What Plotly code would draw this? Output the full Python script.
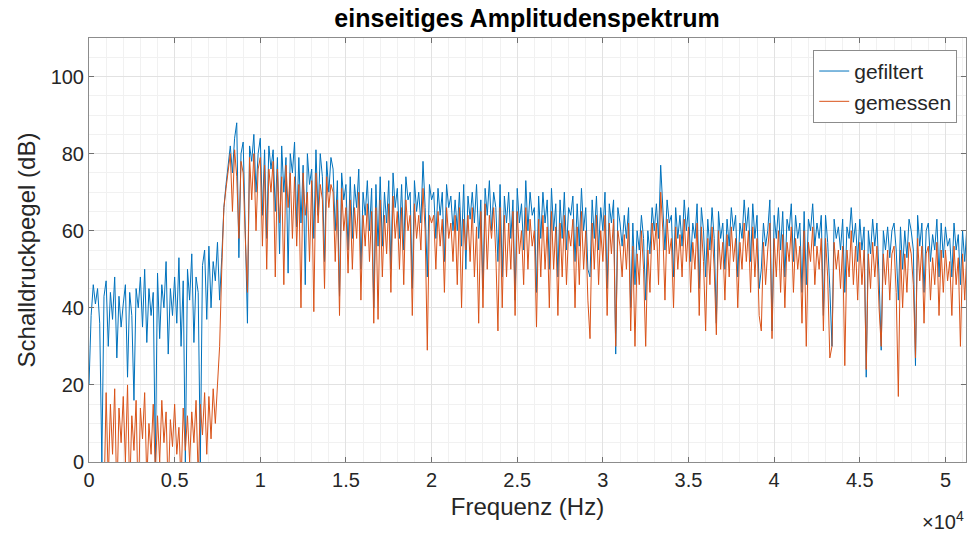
import plotly.graph_objects as go

# Frequency axis of the spectrum (Hz): first bin and bin spacing
FREQ_START_HZ = 0
FREQ_STEP_HZ = 125

# Sound pressure level, filtered signal (dB) - one row per 1000 Hz
gefiltert_db = [
    20, 38, 46, 41, 45, 36, 0, 43,
    47, 30, 44, 37, 48, 27, 43, 35,
    41, 46, 22, 44, 38, 16, 45, 40,
    48, 35, 50, 31, 45, 38, 44, 0,
    49, 32, 46, 40, 52, 28, 45, 38,
    48, 36, 53, 30, 47, 0, 50, 42,
    54, 31, 48, 44, 0, 51, 55, 37,
    56, 40, 52, 47, 57, 42, 53, 66,
    72, 78, 82, 75, 84, 88, 53, 80,
    83, 60, 36, 82, 78, 85, 70, 80,
    84, 64, 81, 58, 82, 76, 81, 65,
    79, 54, 82, 70, 79, 49, 80, 75,
    83, 61, 79, 62, 77, 46, 80, 72,
    76, 58, 81, 64, 80, 74, 52, 78,
    70, 79, 76, 60, 73, 43, 75, 68,
    72, 55, 74, 58, 72, 66, 76, 50,
    70, 64, 73, 60, 71, 40, 72, 56,
    74, 56, 70, 62, 73, 50, 75, 66,
    71, 58, 72, 55, 74, 68, 70, 45,
    73, 65, 70, 62, 78, 66, 48, 72,
    68, 70, 58, 71, 64, 70, 52, 72,
    66, 69, 60, 68, 60, 70, 56, 72,
    50, 69, 63, 70, 62, 72, 58, 68,
    45, 71, 64, 73, 60, 70, 66, 52,
    72, 48, 69, 62, 70, 58, 68, 42,
    71, 62, 67, 55, 73, 60, 70, 64,
    66, 44, 69, 58, 70, 62, 68, 50,
    71, 60, 67, 48, 68, 58, 70, 55,
    66, 64, 69, 52, 67, 56, 71, 60,
    66, 50, 48, 68, 58, 69, 55, 66,
    60, 70, 45, 67, 62, 68, 28, 66,
    62, 56, 64, 58, 66, 40, 62, 46,
    60, 55, 64, 58, 42, 60, 54, 66,
    60, 67, 58, 77, 65, 55, 68, 62,
    64, 48, 66, 58, 64, 56, 68, 60,
    66, 52, 62, 58, 67, 45, 66, 60,
    48, 63, 55, 66, 58, 36, 65, 58,
    62, 50, 63, 56, 66, 60, 64, 48,
    62, 58, 68, 60, 66, 52, 67, 58,
    64, 45, 50, 62, 56, 60, 68, 34,
    64, 58, 66, 55, 65, 48, 63, 60,
    67, 52, 64, 58, 62, 44, 65, 46,
    63, 60, 67, 56, 62, 58, 64, 38,
    64, 57, 45, 30, 63, 58, 61, 55,
    63, 44, 61, 58, 66, 57, 62, 52,
    63, 55, 61, 22, 60, 54, 63, 56,
    62, 48, 29, 60, 55, 61, 53, 60,
    62, 55, 42, 61, 50, 60, 53, 63,
    60, 55, 25, 64, 56, 62, 44, 60,
    62, 52, 59, 55, 63, 48, 62, 53,
    61, 56, 58, 48, 62, 55, 59, 46,
    60, 52, 61, 57, 59, 55, 62, 58,
]

# Sound pressure level, measured signal (dB) - one row per 1000 Hz
gemessen_db = [
    -25, -20, -30, -22, -18, -24, -15, -10,
    18, -5, 15, 2, 19, -10, 14, 5,
    17, 0, 20, -8, 12, 3, 16, -12,
    14, 6, 18, -5, 10, 2, 15, -3,
    12, 0, 16, 5, 13, -8, 11, 4,
    15, 2, 9, -6, 14, 3, 12, 0,
    13, 5, 16, -4, 15, 7, 18, 2,
    17, 6, 19, 10, 20, 30, 50, 66,
    71, 76, 80, 65, 81, 74, 58, 78,
    75, 58, 44, 79, 68, 80, 60, 76,
    79, 56, 77, 50, 76, 70, 78, 48,
    76, 62, 74, 46, 77, 66, 75, 58,
    74, 56, 72, 40, 75, 64, 70, 52,
    73, 39, 75, 62, 72, 68, 45, 74,
    66, 72, 70, 52, 68, 38, 71, 60,
    66, 49, 68, 50, 66, 58, 70, 42,
    64, 56, 67, 52, 65, 36, 66, 37,
    68, 48, 64, 54, 67, 44, 69, 58,
    65, 50, 66, 46, 68, 60, 64, 38,
    67, 58, 64, 55, 71, 60, 29, 64,
    62, 64, 50, 65, 56, 63, 44, 66,
    58, 62, 52, 64, 46, 66, 40, 63,
    55, 64, 52, 66, 48, 61, 36, 65,
    40, 67, 50, 64, 58, 66, 54, 34,
    66, 40, 64, 48, 62, 50, 65, 38,
    65, 54, 60, 46, 66, 50, 63, 56,
    60, 35, 63, 48, 64, 50, 61, 40,
    65, 50, 61, 38, 62, 48, 64, 46,
    60, 56, 63, 40, 61, 46, 65, 50,
    60, 42, 32, 62, 50, 64, 46, 60,
    52, 64, 38, 62, 54, 63, 30, 60,
    56, 48, 59, 50, 62, 34, 56, 30,
    54, 46, 60, 50, 30, 55, 44, 62,
    55, 62, 46, 70, 60, 42, 63, 54,
    58, 40, 61, 50, 59, 48, 63, 52,
    61, 44, 57, 50, 62, 38, 61, 52,
    34, 58, 46, 61, 50, 33, 60, 50,
    57, 42, 59, 48, 61, 52, 58, 40,
    57, 50, 62, 52, 60, 44, 61, 48,
    58, 38, 34, 57, 46, 55, 62, 32,
    58, 48, 60, 44, 59, 40, 57, 52,
    61, 44, 58, 50, 56, 36, 60, 30,
    57, 52, 61, 46, 56, 50, 58, 34,
    58, 48, 27, 30, 57, 50, 55, 45,
    56, 25, 55, 48, 60, 46, 56, 42,
    57, 46, 55, 24, 54, 45, 57, 48,
    56, 40, 30, 54, 46, 55, 42, 54,
    56, 44, 17, 55, 40, 54, 44, 57,
    54, 46, 27, 58, 47, 56, 36, 54,
    56, 42, 53, 46, 57, 38, 55, 44,
    55, 47, 52, 38, 56, 46, 53, 30,
    54, 42, 55, 48, 53, 46, 56, 50,
]

x_tick_vals = [0, 5000, 10000, 15000, 20000, 25000, 30000, 35000, 40000, 45000, 50000]
x_tick_text = ["0", "0.5", "1", "1.5", "2", "2.5", "3", "3.5", "4", "4.5", "5"]
y_tick_vals = [0, 20, 40, 60, 80, 100]

FONT = "Liberation Sans, Arial, Helvetica, sans-serif"
TXT = "#262626"

fig = go.Figure()
fig.add_trace(go.Scatter(
    x0=FREQ_START_HZ, dx=FREQ_STEP_HZ, y=gefiltert_db, mode="lines",
    name="gefiltert", line=dict(color="#0072BD", width=1.0)))
fig.add_trace(go.Scatter(
    x0=FREQ_START_HZ, dx=FREQ_STEP_HZ, y=gemessen_db, mode="lines",
    name="gemessen", line=dict(color="#D95319", width=1.0)))

axis_common = dict(
    showline=True, linecolor="#8c8c8c", linewidth=1, mirror="ticks",
    ticks="inside", ticklen=5, tickcolor="#707070",
    showgrid=True, gridcolor="#e2e2e2", gridwidth=1, zeroline=False,
    tickfont=dict(size=20, color=TXT, family=FONT),
)

fig.update_layout(
    width=970, height=533,
    margin=dict(l=89, r=4, t=38, b=71),
    paper_bgcolor="white", plot_bgcolor="white",
    font=dict(family=FONT, color=TXT),
    title=dict(text="<b>einseitiges Amplitudenspektrum</b>", x=527 / 970, xanchor="center",
               y=1 - 18 / 533, yanchor="middle", font=dict(size=25, color="#000000")),
    xaxis=dict(range=[0, 51200], tickvals=x_tick_vals, ticktext=x_tick_text,
               minor=dict(dtick=1000, tick0=0, showgrid=True, gridcolor="#f1f1f1", ticks=""),
               title=dict(text="Frequenz (Hz)", font=dict(size=24, color=TXT), standoff=8),
               **axis_common),
    yaxis=dict(range=[0, 110], tickvals=y_tick_vals,
               minor=dict(dtick=5, tick0=0, showgrid=True, gridcolor="#f1f1f1", ticks=""),
               title=dict(text="Schalldruckpegel (dB)", font=dict(size=24, color=TXT), standoff=8),
               **axis_common),
    legend=dict(x=0.99, y=0.972, xanchor="right", yanchor="top",
                bgcolor="white", bordercolor="#8c8c8c", borderwidth=1,
                font=dict(size=21, color=TXT), tracegroupgap=0),
    showlegend=True,
)

fig.add_annotation(text="×10<sup>4</sup>", xref="paper", yref="paper", x=1.0, y=-0.139,
                   xanchor="right", yanchor="middle", showarrow=False,
                   font=dict(size=20, color=TXT))

fig.write_html("out.html")
